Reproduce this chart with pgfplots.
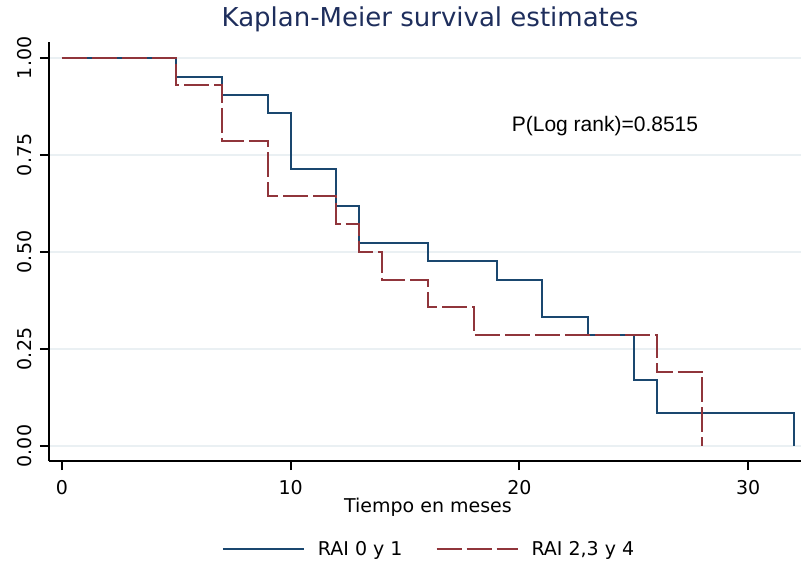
\documentclass[border=0pt]{standalone}
\usepackage{fontspec}
\setmainfont{DejaVu Sans}
\newfontfamily\arialfont{Liberation Sans}
\usepackage{pgfplots}
\pgfplotsset{compat=1.18}

\definecolor{kmblue}{HTML}{1A476F}
\definecolor{kmred}{HTML}{90353B}
\definecolor{kmtitle}{HTML}{1E2E5C}
\definecolor{kmgrid}{HTML}{EAF0F3}

\begin{document}
\begin{tikzpicture}
\begin{axis}[
    scale only axis,
    width=752pt, height=419pt,
    xmin=-0.568, xmax=32.31,
    ymin=-0.0387, ymax=1.041,
    axis x line*=bottom, axis y line*=left,
    axis line style={line width=2pt, black},
    xtick={0,10,20,30},
    ytick={0,0.25,0.5,0.75,1},
    yticklabel style={xshift=-5pt, rotate=90, anchor=south, /pgf/number format/.cd, fixed, fixed zerofill, precision=2},
    xticklabel style={yshift=-7pt},
    /pgf/number format/assume math mode=true,
    tick align=outside,
    major tick length=9pt,
    every tick/.style={line width=2pt, black},
    tick label style={font=\fontsize{19}{22}\selectfont},
    ymajorgrids,
    grid style={line width=1.5pt, kmgrid},
    title={Kaplan-Meier survival estimates},
    title style={font=\fontsize{26}{30}\selectfont, color=kmtitle, anchor=base,
        at={(axis description cs:0.5,1)}, yshift=9pt, xshift=5pt},
    xlabel={Tiempo en meses},
    xlabel style={font=\fontsize{19}{22}\selectfont, anchor=base,
        at={(axis description cs:0.5,0)}, yshift=-51pt, xshift=3pt},
    legend columns=2,
    legend style={draw=none, fill=none, inner sep=0pt, outer sep=0pt,
        at={(axis description cs:0.230,-0.210)}, anchor=west,
        font=\fontsize{19}{22}\selectfont,
        nodes={inner sep=0pt},
        /tikz/every odd column/.append style={column sep=13pt},
        /tikz/every even column/.append style={column sep=33pt}},
    legend image code/.code={\draw[#1] (0pt,0pt) -- (81pt,0pt);},
]
\addplot[const plot, line width=2pt, color=kmblue] coordinates {
    (0,1) (5,0.952) (7,0.905) (9,0.857) (10,0.714) (12,0.619) (13,0.524)
    (16,0.476) (19,0.429) (21,0.333) (23,0.286) (25,0.171) (26,0.086) (32,0)
};
\addlegendentry{RAI 0 y 1}
\addplot[const plot, line width=2pt, color=kmred, dash pattern=on 25pt off 5pt] coordinates {
    (0,1) (5,0.929) (7,0.786) (9,0.643) (12,0.571) (13,0.5) (14,0.429)
    (16,0.357) (18,0.286) (26,0.190) (28,0)
};
\addlegendentry{RAI 2,3 y 4}
\node[font=\arialfont\fontsize{21}{24}\selectfont] at (axis cs:23.74,0.825) {P(Log rank)=0.8515};
\end{axis}
\pgfresetboundingbox
\path[use as bounding box] (-49pt,-110pt) rectangle (753pt,461pt);
\end{tikzpicture}
\end{document}
